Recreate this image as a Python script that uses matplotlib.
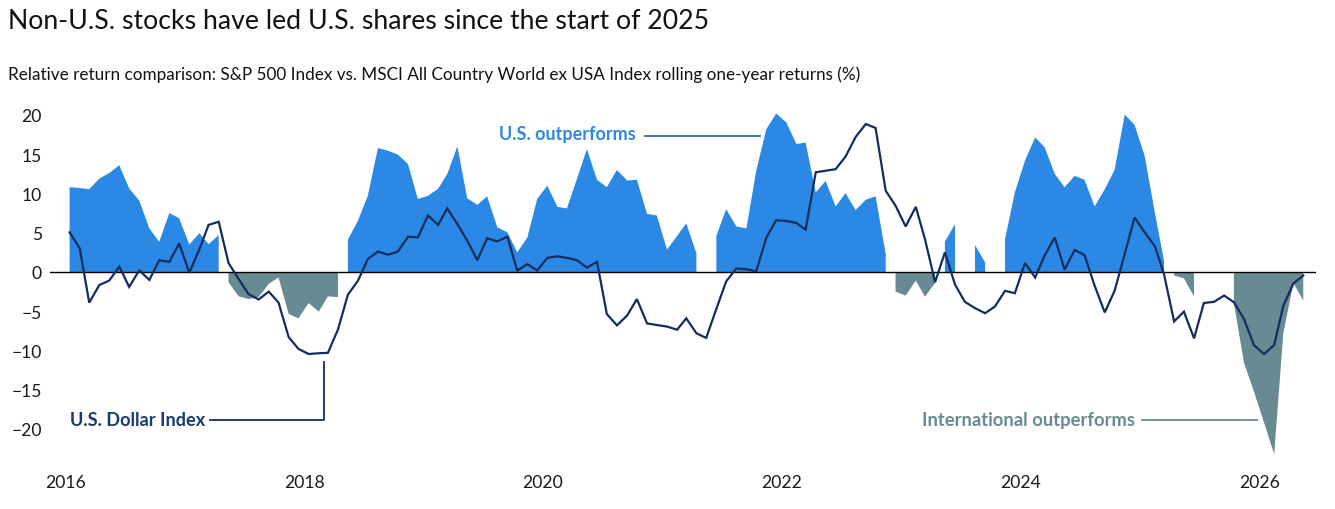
import numpy as np
import pandas as pd
import matplotlib
matplotlib.use("Agg")
import matplotlib.pyplot as plt
from matplotlib.lines import Line2D

plt.rcParams['font.family'] = ['Lato', 'DejaVu Sans']

# ---------------- data (monthly, Jan 2016 - May 2026) ----------------
start_month = "2016-01-01"
n_months = 125

# U.S. Dollar Index, rolling one-year return (%)
dollar_index = [
    5.05, 3.0, -3.9, -1.65, -1.1, 0.7, -1.9, 0.2, -1.0, 1.5, 1.3, 3.65,
    -0.1, 2.9, 6.0, 6.4, 1.15, -0.9, -2.8, -3.5, -2.5, -3.9, -8.3, -9.8,
    -10.45, -10.35, -10.3, -7.3, -2.9, -1.1, 1.65, 2.6, 2.2, 2.6, 4.5, 4.4,
    7.2, 6.0, 8.1, 6.1, 4.0, 1.5, 4.3, 3.9, 4.5, 0.2, 1.0, 0.2,
    1.8, 2.0, 1.8, 1.5, 0.55, 1.3, -5.35, -6.8, -5.55, -3.45, -6.55, -6.75,
    -6.95, -7.35, -5.9, -7.8, -8.4, -4.7, -1.2, 0.45, 0.35, 0.1, 4.4, 6.6,
    6.5, 6.25, 5.4, 12.7, 12.9, 13.1, 14.7, 17.2, 18.85, 18.35, 10.35, 8.45,
    5.8, 8.3, 4.2, -1.3, 2.5, -1.6, -3.8, -4.6, -5.25, -4.4, -2.4, -2.7,
    1.15, -0.7, 2.1, 4.4, 0.3, 2.8, 2.15, -1.75, -5.15, -2.4, 2.3, 6.95,
    5.05, 3.3, -0.25, -6.3, -5.05, -8.45, -3.95, -3.8, -3.0, -3.85, -6.0, -9.3,
    -10.45, -9.3, -4.3, -1.45, -0.45,
]

N = None
# S&P 500 minus MSCI ACWI ex USA, rolling one-year (%) - periods where U.S. led
us_outperforms = [
    10.8, 10.7, 10.55, 11.9, 12.6, 13.6, 10.65, 9.1, 5.55, 3.85, 7.5, 6.85,
    3.5, 4.95, 3.55, 4.7, N, N, N, N, N, N, N, N,
    N, N, N, N, 4.1, 6.55, 9.7, 15.8, 15.45, 14.95, 13.75, 9.3,
    9.7, 10.6, 12.5, 16.0, 9.4, 8.55, 9.65, 5.7, 5.05, 2.5, 4.4, 9.3,
    11.0, 8.3, 8.1, 11.9, 15.65, 11.75, 10.8, 13.0, 11.65, 11.75, 7.4, 7.2,
    2.85, 4.6, 6.2, 2.4, N, 4.6, 8.0, 5.8, 5.55, 12.9, 18.2, 20.2,
    19.05, 16.3, 16.5, 10.15, 11.6, 8.35, 10.05, 7.9, 9.2, 9.65, 2.3, N,
    N, N, N, N, 3.85, 6.1, N, 3.45, 1.2, N, 4.2, 10.15,
    14.2, 17.15, 15.9, 12.5, 10.8, 12.25, 11.75, 8.35, 10.55, 13.0, 20.05, 18.75,
    14.8, 7.6, 1.45, N, N, N, N, N, N, N, N, N,
    N, N, N, N, N,
]
# periods where international stocks led
intl_outperforms = [
    N, N, N, N, N, N, N, N, N, N, N, N,
    N, N, N, N, -1.3, -3.1, -3.45, -3.2, -1.5, -0.7, -5.35, -5.9,
    -3.95, -5.05, -3.1, -3.2, N, N, N, N, N, N, N, N,
    N, N, N, N, N, N, N, N, N, N, N, N,
    N, N, N, N, N, N, N, N, N, N, N, N,
    N, N, N, N, N, N, N, N, N, N, N, N,
    N, N, N, N, N, N, N, N, N, N, N, -2.5,
    -3.0, -1.1, -3.15, -1.4, N, N, N, N, N, N, N, N,
    N, N, N, N, N, N, N, N, N, N, N, N,
    N, N, N, -0.45, -0.8, -3.1, N, N, N, -4.0, -11.6, -15.2,
    -19.15, -23.2, -7.8, -1.4, -3.65,
]

year_ticks = [2016, 2018, 2020, 2022, 2024, 2026]
y_ticks = [20, 15, 10, 5, 0, -5, -10, -15, -20]

title = "Non-U.S. stocks have led U.S. shares since the start of 2025"
subtitle = ("Relative return comparison: S&P 500 Index vs. MSCI All Country World "
            "ex USA Index rolling one-year returns (%)")

# ---------------- styling ----------------
BLUE = "#2B89E5"
GRAY = "#688A93"
NAVY = "#132D5E"
BLUE_LEADER = "#3166A8"

W, H = 1335, 510
fig = plt.figure(figsize=(W / 100, H / 100), dpi=100)

def fx(px):
    return px / W

def fy(py):
    return 1 - py / H

ax = fig.add_axes([fx(50), fy(469.25), fx(1316) - fx(50), fy(100.3) - fy(469.25)])

dates = pd.date_range(start_month, periods=n_months, freq="MS") + pd.Timedelta(days=14)
us = np.array(us_outperforms, dtype=float)
intl = np.array(intl_outperforms, dtype=float)
dxy = np.array(dollar_index, dtype=float)

ax.fill_between(dates, 0, us, color=BLUE, linewidth=0)
ax.fill_between(dates, 0, intl, color=GRAY, linewidth=0)
ax.axhline(0, color="black", linewidth=1.0, zorder=3)
ax.plot(dates, dxy, color=NAVY, linewidth=1.6, zorder=4, solid_joinstyle="miter")

ax.set_xlim(pd.Timestamp("2015-11-16"), pd.Timestamp("2026-06-23"))
ax.set_ylim(-25, 22)

ax.set_xticks([pd.Timestamp(f"{y}-01-01") for y in year_ticks])
ax.set_xticklabels([str(y) for y in year_ticks])
ax.set_yticks(y_ticks)
ax.set_yticklabels([f"{v}".replace("-", "\u2212") for v in y_ticks])
ax.tick_params(axis="both", length=0, labelsize=12.6, colors="#1a1a1a")
ax.tick_params(axis="y", pad=5.8)
ax.tick_params(axis="x", pad=3.8)
for s in ax.spines.values():
    s.set_visible(False)

# ---------------- text ----------------
fig.text(fx(8), fy(29.3), title, fontsize=19.2, color="#111111", va="baseline", ha="left")
fig.text(fx(8), fy(80), subtitle, fontsize=12.35, color="#111111", va="baseline", ha="left")

fig.text(fx(499), fy(140), "U.S. outperforms", fontsize=12.95, fontweight="bold",
         color=BLUE, va="baseline", ha="left")
fig.add_artist(Line2D([fx(645), fx(760)], [fy(136.7), fy(136.7)], color=BLUE_LEADER,
                      linewidth=1.3, transform=fig.transFigure))

fig.text(fx(70), fy(426), "U.S. Dollar Index", fontsize=13.1, fontweight="bold",
         color="#1B3A6E", va="baseline", ha="left")
fig.add_artist(Line2D([fx(210), fx(324), fx(324)], [fy(421), fy(421), fy(363)],
                      color=NAVY, linewidth=1.3, transform=fig.transFigure))

fig.text(fx(922), fy(425.7), "International outperforms", fontsize=13.2, fontweight="bold",
         color=GRAY, va="baseline", ha="left")
fig.add_artist(Line2D([fx(1142), fx(1257)], [fy(421), fy(421)], color=GRAY,
                      linewidth=1.3, transform=fig.transFigure))

fig.savefig("out.png", dpi=100, facecolor="white")
